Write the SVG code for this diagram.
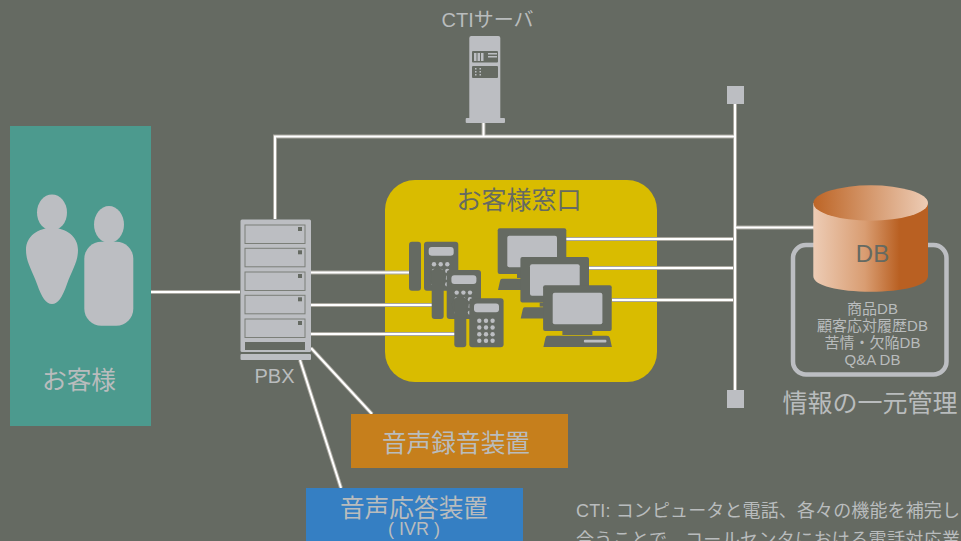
<svg xmlns="http://www.w3.org/2000/svg" xmlns:xlink="http://www.w3.org/1999/xlink" width="961" height="541" viewBox="0 0 961 541">
<style>
text{font-family:"Liberation Sans","Noto Sans CJK JP",sans-serif;fill:#b9bcbd;text-anchor:middle}
.g{fill:#bcbec2}
.d{fill:#656a62}
.o{fill:none;stroke:#a8a69e;stroke-width:4}
.w{fill:none;stroke:#fff;stroke-width:2}
.k{fill:#bcbec2;stroke:#7b7f78;stroke-width:1}
.s{fill:#656a62}
</style>
<defs>
<linearGradient id="top" x1="0" x2="1" y1="0" y2="0"><stop offset="0" stop-color="#bd6526"/><stop offset="1" stop-color="#edccb5"/></linearGradient>
<linearGradient id="side" x1="0" x2="1" y1="0" y2="0"><stop offset="0" stop-color="#edccb5"/><stop offset=".45" stop-color="#d99d72"/><stop offset=".75" stop-color="#b96022"/><stop offset="1" stop-color="#b96022"/></linearGradient>
<g id="phone">
<rect class="d" x="409" y="241.700" width="12" height="49" rx="3"/>
<rect class="d" x="424" y="241.700" width="34.300" height="49" rx="3"/>
<rect class="g" x="428.700" y="247" width="25" height="8.700" rx="3"/>
<g class="g">
<circle cx="434" cy="264.300" r="2.200"/><circle cx="440.700" cy="264.300" r="2.200"/><circle cx="447.300" cy="264.300" r="2.200"/>
<circle cx="434" cy="271" r="2.200"/><circle cx="440.700" cy="271" r="2.200"/><circle cx="447.300" cy="271" r="2.200"/>
<circle cx="434" cy="277.700" r="2.200"/><circle cx="440.700" cy="277.700" r="2.200"/><circle cx="447.300" cy="277.700" r="2.200"/>
<circle cx="434" cy="284.300" r="2.200"/><circle cx="440.700" cy="284.300" r="2.200"/><circle cx="447.300" cy="284.300" r="2.200"/>
</g>
</g>
<g id="mon">
<rect class="d" x="497.700" y="228.300" width="68.600" height="45.700" rx="2"/>
<rect class="g" x="507.300" y="235.700" width="49.700" height="31.500" rx="2"/>
<rect class="d" x="517" y="274" width="30" height="4"/>
<path class="d" d="M502 278.700H561.500Q564 278.700 564.500 281L566.500 290H498L500 281Q500.500 278.700 502 278.700Z"/>
<rect class="g" x="538.500" y="282.700" width="22.500" height="2.800" rx="1"/>
</g>
<g id="unit">
<rect class="k" x="245" y="225" width="60" height="18.500"/>
<rect class="s" x="298" y="227" width="4" height="4"/>
</g>
</defs>
<rect width="961" height="541" fill="#656a62"/>
<g id="window-panel">
<rect x="385" y="180" width="272" height="202" rx="30" fill="#d9bc00"/>
</g>
<g id="connectors">
<path class="o" d="M483.500 123V136M275 219V136.500H735M735 104V392M151 292H240M311 272.500H412M311 305H434M311 334H457M566 239H735M589 268H735M612 300H735M735 227.500H815M311 348L372 414M300 360L341 488"/>
<path class="w" d="M483.500 123V136M275 219V136.500H735M735 104V392M151 292H240M311 272.500H412M311 305H434M311 334H457M566 239H733M589 268H733M612 300H733M735 227.500H815M311 348L372 414M300 360L341 488"/>
</g>
<g id="customer">
<rect x="10" y="126" width="141" height="300" fill="#4c9a8e"/>
<ellipse class="g" cx="52" cy="212.500" rx="15" ry="18"/>
<path class="g" d="M26 250C26 236 38 228 52 228C66 228 78 236 78 250C78 262 72 270 67 284C62 298 58 304 52 304C46 304 42 298 37 284C32 270 26 262 26 250Z"/>
<ellipse class="g" cx="109" cy="224.500" rx="15" ry="18.500"/>
<rect class="g" x="84.300" y="241.700" width="49" height="84" rx="17"/>
<text x="79" y="389" font-size="24.700">お客様</text>
</g>
<g id="cti-server">
<text x="487.500" y="27" font-size="20">CTIサーバ</text>
<path class="g" d="M469.300 118V38Q469.300 36 471.300 36H498.300Q500.300 36 500.300 38V118Z"/>
<rect class="g" x="465.700" y="118" width="39.300" height="5" rx="1"/>
<rect class="d" x="472" y="51" width="26" height="11.500" rx="1"/>
<rect class="d" x="472" y="66" width="26" height="12" rx="1"/>
<g class="g">
<rect x="474" y="53" width="2.500" height="8"/><rect x="477.500" y="53" width="2.500" height="8"/><rect x="481" y="53" width="2.500" height="8"/>
<rect x="488" y="53" width="9" height="1.500"/><rect x="488" y="56" width="9" height="1.500"/>
<rect x="475" y="68" width="1.500" height="1.500"/><rect x="475" y="71" width="1.500" height="1.500"/><rect x="475" y="74" width="1.500" height="1.500"/>
<rect x="479.500" y="68" width="1.500" height="1.500"/><rect x="479.500" y="71" width="1.500" height="1.500"/><rect x="479.500" y="74" width="1.500" height="1.500"/>
</g>
</g>
<g id="bus-ends">
<rect class="g" x="727" y="86" width="17" height="18"/>
<rect class="g" x="727" y="390" width="17" height="18"/>
</g>
<g id="pbx">
<rect class="g" x="240.500" y="219.500" width="70.500" height="132.500" rx="1.500"/>
<rect class="g" x="240.500" y="354" width="70.500" height="6" rx="1"/>
<use xlink:href="#unit"/>
<use xlink:href="#unit" y="23.300"/>
<use xlink:href="#unit" y="47"/>
<use xlink:href="#unit" y="70.300"/>
<use xlink:href="#unit" y="94"/>
<rect class="d" x="245" y="342" width="60" height="8"/>
<text x="274.500" y="383" font-size="20">PBX</text>
</g>
<g id="window">
<text x="519" y="209" font-size="25" style="fill:#656a62">お客様窓口</text>
<use xlink:href="#phone"/>
<circle class="d" cx="437.700" cy="276.700" r="8.500"/>
<use xlink:href="#phone" x="22.700" y="28.300"/>
<circle class="d" cx="460.300" cy="305" r="8.500"/>
<use xlink:href="#phone" x="45.300" y="56.500"/>
<use xlink:href="#mon"/>
<use xlink:href="#mon" x="22.700" y="28.600"/>
<use xlink:href="#mon" x="45.400" y="57"/>
</g>
<g id="db">
<rect x="793" y="245" width="153.500" height="129.500" rx="13" fill="none" stroke="#bcbec2" stroke-width="4.500"/>
<path d="M813.300 203V276C813.300 286 839 291.700 870.700 291.700S928 286 928 276V203Z" fill="url(#side)"/>
<ellipse cx="870.700" cy="203" rx="57.300" ry="17.700" fill="url(#top)"/>
<text x="872.500" y="262" font-size="24" style="fill:#656a62">DB</text>
<text x="872.500" y="314" font-size="15">商品DB</text>
<text x="872.500" y="331" font-size="15">顧客応対履歴DB</text>
<text x="872.500" y="348" font-size="15">苦情・欠陥DB</text>
<text x="872.500" y="365" font-size="15">Q&amp;A DB</text>
<text x="870" y="412" font-size="25">情報の一元管理</text>
</g>
<g id="recorder">
<rect x="351" y="414" width="217" height="54" fill="#c67f1c"/>
<text x="456" y="452" font-size="24.700">音声録音装置</text>
</g>
<g id="ivr">
<rect x="306" y="488" width="217" height="53" fill="#357fc3"/>
<text x="414" y="517" font-size="24.700">音声応答装置</text>
<text x="414" y="535" font-size="18">( IVR )</text>
</g>
<g id="note">
<text x="576" y="517" font-size="18" textLength="384" style="text-anchor:start">CTI: コンピュータと電話、各々の機能を補完し</text>
<text x="576" y="546" font-size="18" textLength="384" style="text-anchor:start">合うことで、コールセンタにおける電話対応業</text>
</g>
</svg>
